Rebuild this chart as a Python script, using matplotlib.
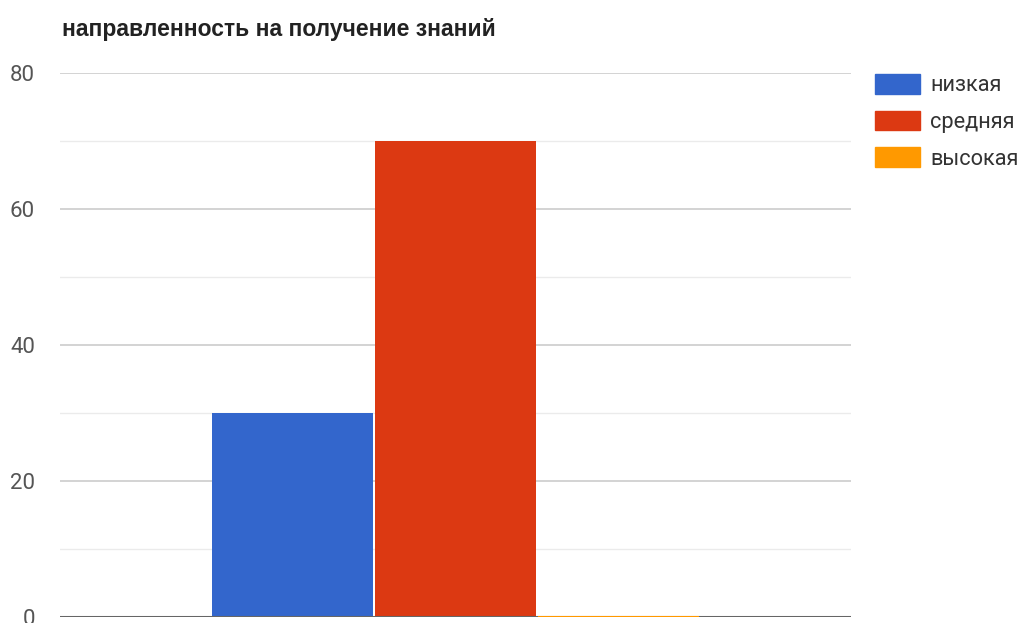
import matplotlib.pyplot as plt
from matplotlib.patches import Patch

title = 'направленность на получение знаний'
series = ['низкая', 'средняя', 'высокая']
values = [30, 70, 0]
colors = ['#3366cc', '#dc3912', '#ff9900']
yticks = [0, 20, 40, 60, 80]
yminor = [10, 30, 50, 70]

plt.rcParams['font.family'] = ['Roboto', 'DejaVu Sans']

fig = plt.figure(figsize=(10.23, 6.23), dpi=100)
ax = fig.add_axes([0.0587, 0.0096, 0.7732, 0.8732])

# one group, three series side by side
offsets = [-1, 0, 1]
for off, v, c in zip(offsets, values, colors):
    ax.bar(off, v, width=0.99, color=c, edgecolor=c if v == 0 else 'none',
           linewidth=1.5, zorder=5 if v == 0 else 3)

ax.set_xlim(-2.43, 2.43)
ax.set_ylim(0, 80)
ax.set_xticks([])
ax.set_yticks(yticks)
ax.set_yticks(yminor, minor=True)
ax.tick_params(axis='y', which='both', length=0, pad=18, labelsize=16, labelcolor='#555555')

for y in yticks[1:]:
    ax.axhline(y, color='#cccccc', lw=1.2, zorder=1)
for y in yminor:
    ax.axhline(y, color='#ebebeb', lw=1.0, zorder=1)
ax.axhline(0, color='#666666', lw=2.2, zorder=4)

for s in ax.spines.values():
    s.set_visible(False)

fig.text(0.0606, 0.953, title, fontsize=16.5, fontweight='bold', color='#222222',
         family=['Liberation Sans', 'DejaVu Sans'], va='center', ha='left')

handles = [Patch(color=c, label=s) for s, c in zip(series, colors)]
fig.legend(handles=handles, loc='upper left', bbox_to_anchor=(0.855, 0.881),
           frameon=False, fontsize=15.7, handlelength=2.1, handleheight=1.0,
           labelspacing=0.66, handletextpad=0.45, borderaxespad=0, borderpad=0,
           labelcolor='#333333')

fig.savefig('out.png', dpi=100)
